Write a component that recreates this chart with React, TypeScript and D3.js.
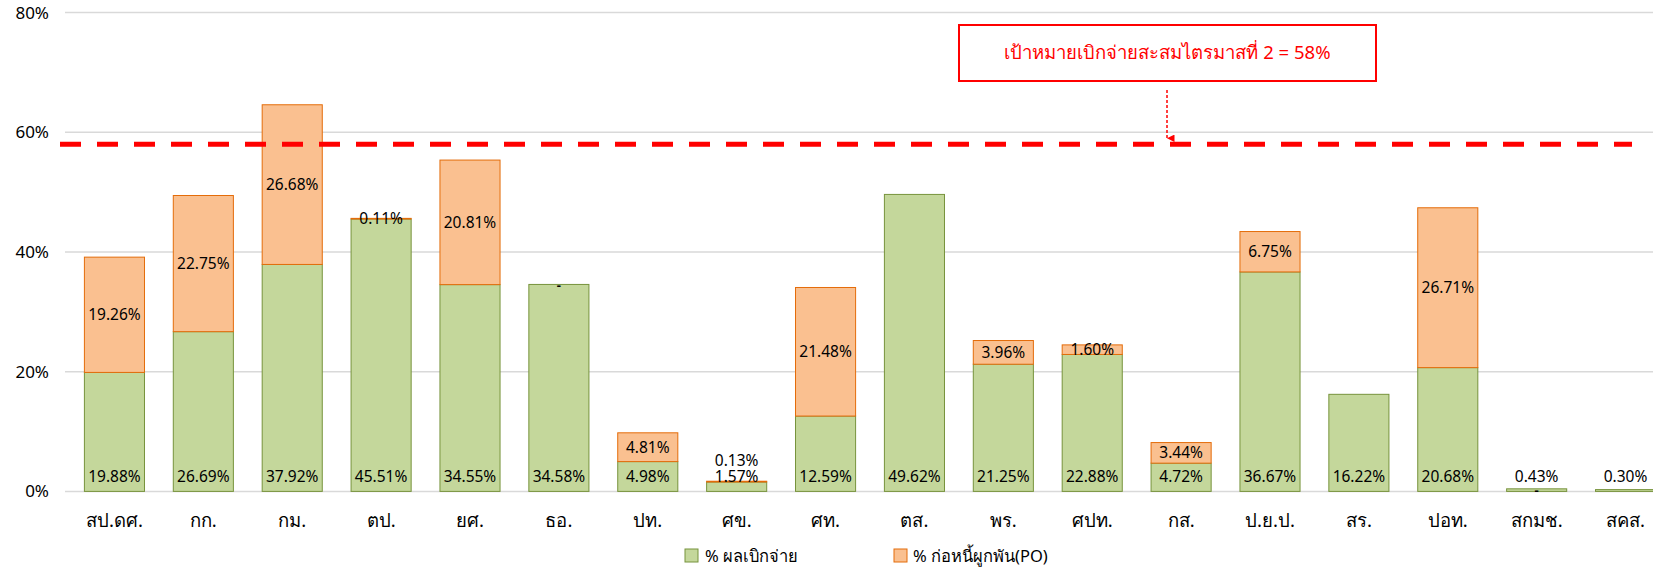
import React, { useEffect } from "react";
import * as d3 from "d3";

// Agencies on the x axis
const categories = [
  "สป.ดศ.", "กก.", "กม.", "ตป.", "ยศ.", "ธอ.", "ปท.", "ศข.", "ศท.",
  "ตส.", "พร.", "ศปท.", "กส.", "ป.ย.ป.", "สร.", "ปอท.", "สกมช.", "สคส.",
];

// % disbursed (green, bottom of stack)
const disbursed = [
  19.88, 26.69, 37.92, 45.51, 34.55, 34.58, 4.98, 1.57, 12.59,
  49.62, 21.25, 22.88, 4.72, 36.67, 16.22, 20.68, 0.43, 0.3,
];

// % committed PO (orange, top of stack); null = no label, 0 = "-"
const committed: (number | null)[] = [
  19.26, 22.75, 26.68, 0.11, 20.81, 0, 4.81, 0.13, 21.48,
  null, 3.96, 1.6, 3.44, 6.75, null, 26.71, 0, null,
];

const yTicks = [0, 20, 40, 60, 80];
const target = 58;
const targetLabel = "เป้าหมายเบิกจ่ายสะสมไตรมาสที่ 2 = 58%";
const seriesNames = ["% ผลเบิกจ่าย", "% ก่อหนี้ผูกพัน(PO)"];

const W = 1653;
const H = 568;
const FONT = "Tahoma, 'Noto Sans', 'DejaVu Sans', sans-serif";

const GREEN = "#C4D79B";
const GREEN_EDGE = "#77933C";
const ORANGE = "#FAC090";
const ORANGE_EDGE = "#E46C0A";

const App: React.FC = () => {
  useEffect(() => {
    document.body.style.margin = "0";
  }, []);

  const x = d3
    .scaleBand<string>()
    .domain(categories)
    .range([70, 1670])
    .paddingInner(0.324)
    .paddingOuter(0.162);

  const y = d3.scaleLinear().domain([0, 80]).range([491.4, 12.6]);
  const fmt = (v: number) => `${v.toFixed(2)}%`;

  const greenLabelY = y(0) - 15;
  const targetY = y(target);

  return (
    <svg width={W} height={H} style={{ display: "block", fontFamily: FONT }}>
      <defs>
        <marker id="arrow" viewBox="0 0 10 10" refX="5" refY="10" markerWidth="5" markerHeight="5" orient="auto-start-reverse">
          <path d="M0,0 L10,0 L5,10 Z" fill="#FF0000" />
        </marker>
      </defs>

      {/* gridlines + y labels */}
      {yTicks.map((t) => (
        <g key={t}>
          <line x1={65} x2={W} y1={y(t)} y2={y(t)} stroke="#D9D9D9" strokeWidth={1.5} />
          <text x={49} y={y(t)} dy="0.35em" textAnchor="end" fontSize={17} fill="#000">
            {`${t}%`}
          </text>
        </g>
      ))}

      {/* bars */}
      {categories.map((c, i) => {
        const x0 = x(c)!;
        const bw = x.bandwidth();
        const g = disbursed[i];
        const o = committed[i];
        const top = g + (o ?? 0);
        let oLabelY = (y(g) + y(top)) / 2;
        if (greenLabelY - oLabelY < 18) oLabelY = greenLabelY - 16;
        return (
          <g key={c}>
            <rect x={x0} y={y(g)} width={bw} height={y(0) - y(g)} fill={GREEN} stroke={GREEN_EDGE} strokeWidth={1} />
            {o !== null && o > 0 && (
              <rect x={x0} y={y(top)} width={bw} height={y(g) - y(top)} fill={ORANGE} stroke={ORANGE_EDGE} strokeWidth={1} />
            )}
            <text x={x0 + bw / 2} y={greenLabelY} dy="0.35em" textAnchor="middle" fontSize={15.5} fill="#000">
              {fmt(g)}
            </text>
            {o !== null && o > 0 && (
              <text x={x0 + bw / 2} y={oLabelY} dy="0.35em" textAnchor="middle" fontSize={15.5} fill="#000">
                {fmt(o)}
              </text>
            )}
            {o === 0 && (
              <text x={x0 + bw / 2} y={y(top) + 2} dy="0.3em" textAnchor="middle" fontSize={13} fontWeight="bold" fill="#000">
                -
              </text>
            )}
            <text x={x0 + bw / 2} y={521} dy="0.35em" textAnchor="middle" fontSize={18.5} fill="#000">
              {c}
            </text>
          </g>
        );
      })}

      {/* target line */}
      <line x1={60} x2={1632} y1={targetY} y2={targetY} stroke="#FF0000" strokeWidth={5} strokeDasharray="21 16" />

      {/* annotation */}
      <rect x={959} y={25} width={417} height={56} fill="#fff" stroke="#FF0000" strokeWidth={2} />
      <text x={1167.5} y={53} dy="0.35em" textAnchor="middle" fontSize={18.5} fill="#FF0000">
        {targetLabel}
      </text>
      <line x1={1167} x2={1167} y1={90} y2={targetY - 6} stroke="#FF0000" strokeWidth={1.5} strokeDasharray="3 2" markerEnd="url(#arrow)" />

      {/* legend */}
      <rect x={685} y={549} width={13} height={13} fill={GREEN} stroke={GREEN_EDGE} strokeWidth={1} />
      <text x={705} y={556} dy="0.35em" fontSize={16.5} fill="#000">{seriesNames[0]}</text>
      <rect x={894} y={549} width={13} height={13} fill={ORANGE} stroke={ORANGE_EDGE} strokeWidth={1} />
      <text x={913} y={556} dy="0.35em" fontSize={16.5} fill="#000">{seriesNames[1]}</text>
    </svg>
  );
};

export default App;
